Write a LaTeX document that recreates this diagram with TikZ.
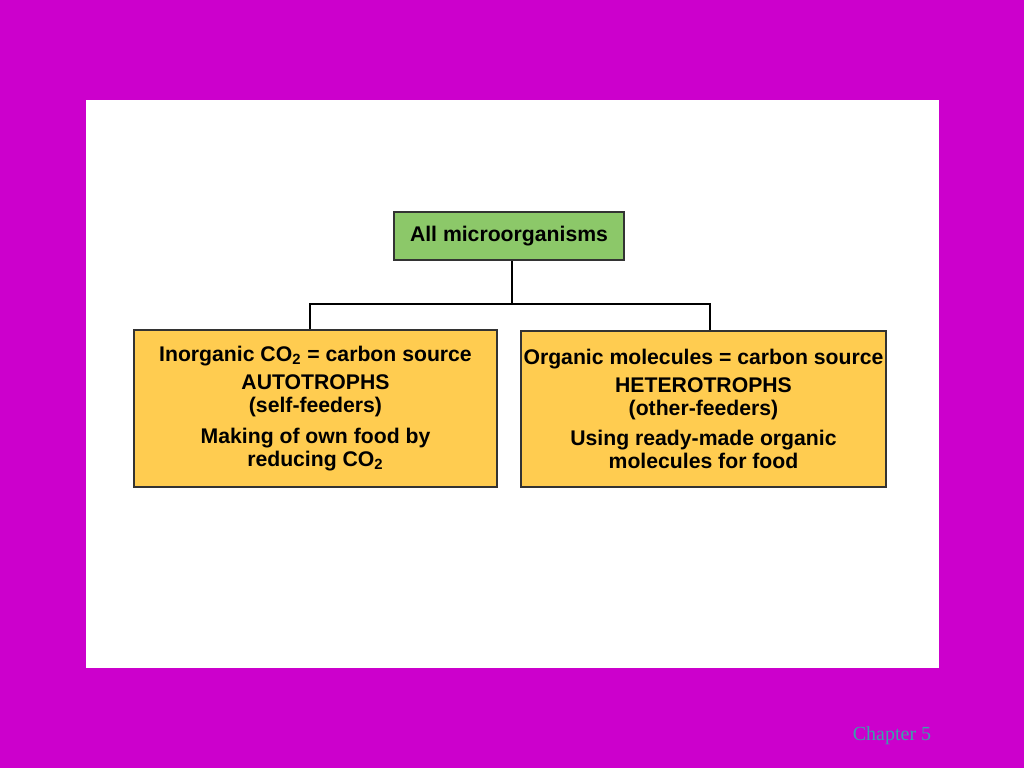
\documentclass[tikz,border=0pt]{standalone}
\usepackage{fontspec}
\setmainfont{Liberation Sans}
\newfontfamily\chapfont{Liberation Serif}
\usetikzlibrary{positioning}
\definecolor{SlideMagenta}{RGB}{204,0,204}
\definecolor{RootGreen}{RGB}{140,200,105}
\definecolor{ClassYellow}{RGB}{255,204,80}
\definecolor{ChapTeal}{RGB}{60,160,170}
\definecolor{EdgeGrey}{RGB}{51,51,51}

\tikzset{
  groupbox/.style={draw=EdgeGrey, line width=1pt, align=center, inner sep=0pt,
    font=\fontsize{10.6}{11.6}\selectfont\bfseries},
  link/.style={draw=black, line width=1pt}
}

\begin{document}
\begin{tikzpicture}[x=0.5pt, y=-0.5pt]
\pgfmathsetmacro{\xl}{86} % white panel left
\pgfmathsetmacro{\xr}{939} % white panel right

\fill[SlideMagenta] (0,0) rectangle (1024,768); %background
\useasboundingbox (0,0) rectangle (1024,768);
\fill[white] (\xl,100) rectangle (\xr,668); %panel

\node[groupbox, fill=RootGreen, minimum width=115pt, minimum height=24pt] (all) at (509,236) {All microorganisms};

\node[groupbox, fill=ClassYellow, minimum width=181.5pt, minimum height=78.5pt] (auto) at (315.5,408.5)
  {Inorganic CO\textsubscript{2} = carbon source\\[2.5pt] AUTOTROPHS\\ (self-feeders)\\[3.5pt] Making of own food by\\ reducing CO\textsubscript{2}};
\node[groupbox, fill=ClassYellow, minimum width=182.5pt, minimum height=78pt] (hetero) at (703.5,409)
  {Organic molecules = carbon source\\[2.5pt] HETEROTROPHS\\ (other-feeders)\\[3.5pt] Using ready-made organic\\ molecules for food};

\coordinate (split) at (512,304); % branch point
\draw[link] (all.south -| split) -- (split);
\draw[link] (split) -| ([xshift=-2.75pt]auto.north);
\draw[link] (split) -| ([xshift=3.25pt]hetero.north);

\node[text=ChapTeal, font=\chapfont\fontsize{10}{12}\selectfont] (chap) at (892,736) {Chapter 5};

\end{tikzpicture}
\end{document}
